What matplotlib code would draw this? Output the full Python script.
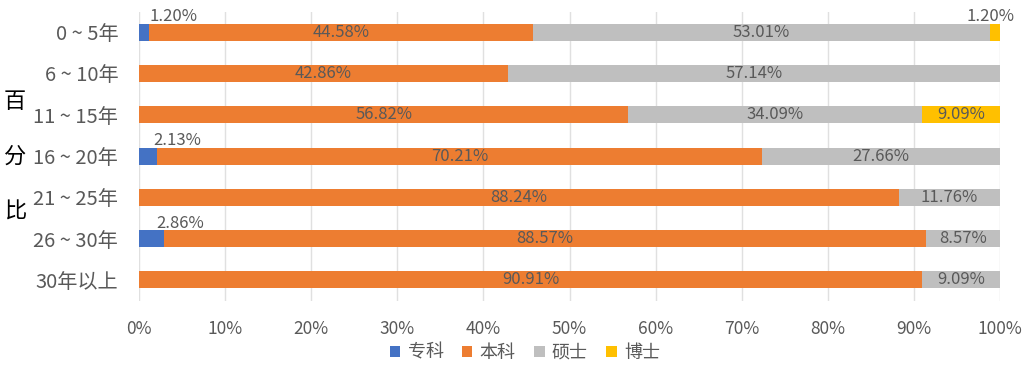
import numpy as np
import matplotlib
matplotlib.use('Agg')
import matplotlib.pyplot as plt

plt.rcParams['font.family'] = ['Noto Sans CJK SC', 'DejaVu Sans']

# data (percent)
groups = ['0 ~ 5年', '6 ~ 10年', '11 ~ 15年', '16 ~ 20年', '21 ~ 25年', '26 ~ 30年', '30年以上']
degrees = ['专科', '本科', '硕士', '博士']
zhuanke = [1.20, 0, 0, 2.13, 0, 2.86, 0]
benke = [44.58, 42.86, 56.82, 70.21, 88.24, 88.57, 90.91]
shuoshi = [53.01, 57.14, 34.09, 27.66, 11.76, 8.57, 9.09]
boshi = [1.20, 0, 9.09, 0, 0, 0, 0]

colors = ['#4472C4', '#ED7D31', '#BFBFBF', '#FFC000']
txt_col = '#595959'

fig = plt.figure(figsize=(10.35, 3.72), dpi=100)
ax = fig.add_axes([0.1343, 0.192, 0.8319, 0.777])

y = np.arange(len(groups))
left = np.zeros(len(groups))
series = [zhuanke, benke, shuoshi, boshi]
for k, (vals, name, c) in enumerate(zip(series, degrees, colors)):
    vals = np.array(vals) / 100
    ax.barh(y, vals, left=left, height=0.41, color=c, label=name, zorder=2)
    for i, v in enumerate(vals):
        if v <= 0:
            continue
        cx = left[i] + v / 2
        if v < 0.04:
            # small segments get the label above the bar
            dx = 21 if k == 0 else -3
            ax.annotate(f'{v*100:.2f}%', (cx, y[i]), xytext=(dx, 11),
                        textcoords='offset points', ha='center', va='center',
                        fontsize=12, color=txt_col)
        else:
            ax.text(cx, y[i], f'{v*100:.2f}%', ha='center', va='center',
                    fontsize=12, color=txt_col, zorder=3)
    left += vals

ax.set_ylim(len(groups) - 0.5, -0.5)
ax.set_xlim(0, 1)
ax.set_yticks(y)
ax.set_yticklabels(groups, fontsize=14.5, color=txt_col)
ax.set_xticks(np.linspace(0, 1, 11))
ax.set_xticklabels([f'{int(t)}%' for t in np.linspace(0, 100, 11)], fontsize=12.5, color=txt_col)
ax.tick_params(length=0, axis='y', pad=15)
ax.tick_params(length=0, axis='x', pad=14)
ax.grid(axis='x', color='#E0E0E0', linewidth=1, zorder=0)
for s in ax.spines.values():
    s.set_visible(False)

fig.text(0.0145, 0.58, '百\n分\n比', fontsize=16, color='black', ha='center', va='center',
         linespacing=2.75)

leg = fig.legend(loc='center', bbox_to_anchor=(0.507, 0.052), ncol=4, frameon=False,
                 handlelength=0.6, handleheight=0.6, handletextpad=0.4, columnspacing=1.0,
                 fontsize=13)
for t in leg.get_texts():
    t.set_color(txt_col)

fig.savefig('out.png', dpi=100)
